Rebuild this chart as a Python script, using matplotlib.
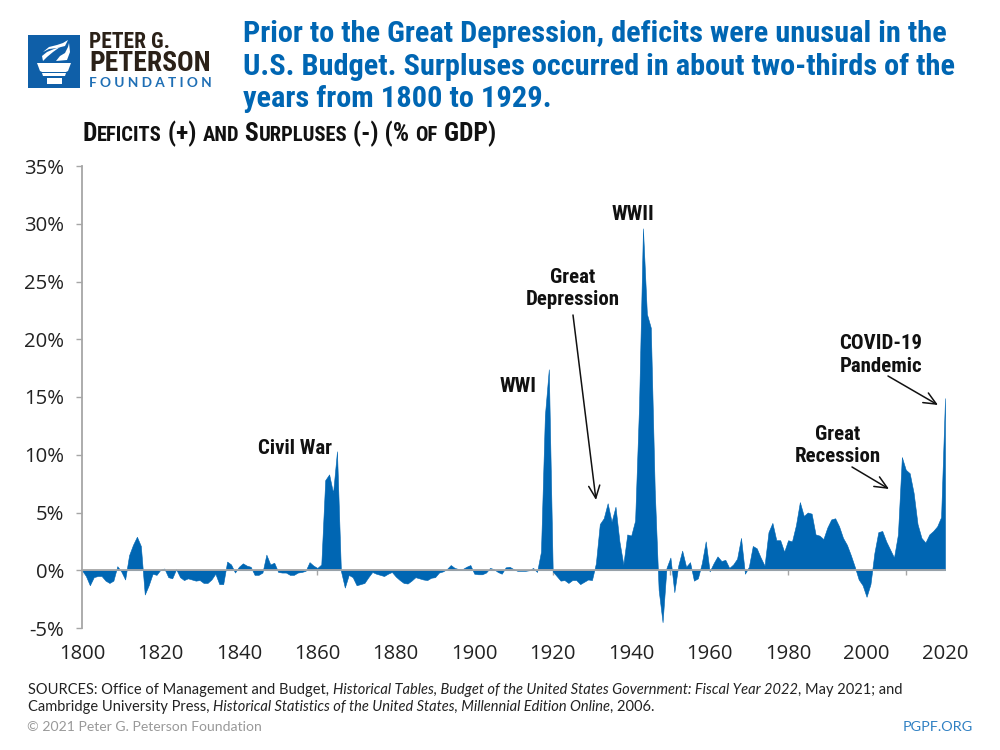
import matplotlib
matplotlib.use("Agg")
import matplotlib.pyplot as plt
from matplotlib.patches import Polygon, Rectangle
from matplotlib import font_manager as fm

# ---- data ----
years = list(range(1800, 2021))
vals_1800s = [0, -0.5, -1.3, -0.6, -0.5, -0.5, -0.9, -1.1, -0.9, 0.35,
              -0.1, -0.8, 1.3, 2.2, 2.9, 2.1, -2.1, -1.3, -0.3, -0.4,
              0.05, 0.15, -0.6, -0.7, 0.1, -0.6, -0.85, -0.7, -0.8, -0.9,
              -0.85, -1.1, -1.1, -0.8, -0.3, -1.2, -1.2, 0.75, 0.5, -0.2,
              0.3, 0.6, 0.4, 0.3, -0.4, -0.4, -0.2, 1.35, 0.5, 0.65,
              -0.15, -0.2, -0.2, -0.4, -0.4, -0.2, -0.15, -0.05, 0.7, 0.4,
              0.2, 0.5, 7.8, 8.3, 6.7, 10.3, -0.05, -1.5, -0.4, -0.6,
              -1.3, -1.2, -1.1, -0.6, -0.15, -0.3, -0.4, -0.5, -0.3, -0.15,
              -0.55, -0.85, -1.1, -1.15, -0.9, -0.6, -0.7, -0.8, -0.85, -0.65,
              -0.6, -0.2, -0.1, 0.1, 0.45, 0.2, 0.1, 0.1, 0.3, 0.45]
vals_1900s = [-0.3, -0.35, -0.35, -0.2, 0.2, 0.1, -0.15, -0.3, 0.25, 0.3,
              0.1, -0.05, -0.05, -0.05, 0.0, 0.2, -0.15, 1.6, 13.4, 17.4,
              -0.1, -0.5, -0.9, -0.85, -1.1, -0.85, -0.85, -1.2, -1.0, -0.8,
              -0.85, 0.6, 4.0, 4.5, 5.8, 4.2, 5.5, 2.5, 0.5, 3.1,
              3.0, 4.3, 14.2, 29.6, 22.2, 21.0, 7.0, -1.7, -4.5, 0.2,
              1.1, -1.9, 0.4, 1.7, 0.3, 0.7, -0.9, -0.7, 0.6, 2.5,
              -0.1, 0.6, 1.2, 0.8, 0.9, 0.2, 0.5, 1.0, 2.8, -0.3,
              0.3, 2.1, 1.9, 1.1, 0.4, 3.3, 4.1, 2.6, 2.6, 1.6,
              2.6, 2.5, 3.9, 5.9, 4.7, 5.0, 4.9, 3.1, 3.0, 2.7,
              3.7, 4.4, 4.5, 3.8, 2.8, 2.2, 1.3, 0.3, -0.8, -1.3]
vals_2000s = [-2.3, -1.2, 1.5, 3.3, 3.4, 2.5, 1.8, 1.1, 3.1, 9.8,
              8.7, 8.4, 6.7, 4.0, 2.8, 2.4, 3.1, 3.4, 3.8, 4.6, 14.9]
values = vals_1800s + vals_1900s + vals_2000s

x_labels = list(range(1800, 2021, 20))
x_marks = list(range(1800, 2021, 30))
y_ticks = list(range(-5, 36, 5))
y_labels = [f"{v}%" for v in y_ticks]
title_lines = ["Prior to the Great Depression, deficits were unusual in the",
               "U.S. Budget. Surpluses occurred in about two-thirds of the",
               "years from 1800 to 1929."]

BLUE = "#0066b3"
GRAY = "#a6a6a6"
W, H = 1000, 750

avail = {f.name for f in fm.fontManager.ttflist}
NARROW = next((n for n in ("Liberation Sans Narrow", "Roboto Condensed", "Open Sans Condensed") if n in avail), "Roboto")
BODY = "Lato"
TICK = "Open Sans"

fig = plt.figure(figsize=(10, 7.5), dpi=100, facecolor="white")
ax = fig.add_axes([82 / W, 1 - 628 / H, (945 - 82) / W, (628 - 166) / H])
ax.set_xlim(1800, 2020)
ax.set_ylim(-5, 35)
ax.fill_between(years, values, 0, facecolor=BLUE, edgecolor=BLUE, lw=0.4, zorder=2, clip_on=False)

for s in ("top", "right"):
    ax.spines[s].set_visible(False)
ax.spines["bottom"].set_position(("data", 0))
ax.spines["bottom"].set_color(GRAY)
ax.spines["bottom"].set_linewidth(1.3)
ax.spines["bottom"].set_zorder(3)
ax.spines["left"].set_color(GRAY)
ax.spines["left"].set_linewidth(1.3)
ax.xaxis.remove_overlapping_locs = False
ax.set_xticks(x_marks)
ax.set_xticklabels([])
ax.set_xticks(x_labels, labels=[str(v) for v in x_labels], minor=True)
ax.set_yticks(y_ticks)
ax.set_yticklabels(y_labels)
ax.tick_params(axis="y", length=4.3, width=1, color=GRAY, pad=8.5, labelsize=14.6, labelcolor="#222222")
ax.tick_params(axis="x", which="major", length=3.5, width=1, color=GRAY)
ax.tick_params(axis="x", which="minor", length=0, pad=53, labelsize=14.6, labelcolor="#222222")
for lb in ax.get_xticklabels(minor=True) + ax.get_yticklabels():
    lb.set_fontfamily(TICK)


def P(x, y):
    return x / W, 1 - y / H


def T(x, y, s, **kw):
    return fig.text(*P(x, y), s, **kw)


def runs(x, y, parts, **common):
    r = fig.canvas.get_renderer()
    for s, kw in parts:
        t = T(x, y, s, va="baseline", ha="left", **common, **kw)
        x += t.get_window_extent(r).width


# logo
fig.add_artist(Rectangle(P(28, 88), 52 / W, 53 / H, transform=fig.transFigure, color="#0f5fa8", lw=0))
logo_shapes = [
    [(37, 63), (71, 63), (68, 71), (66, 72), (42, 72), (40, 71)],
    [(42, 73), (66, 73), (65, 76), (43, 76)],
    [(47, 78), (62, 78), (62, 84), (47, 84)],
    [(43, 61), (42, 56), (47, 52), (54, 49), (60, 47), (53, 52), (47, 57)],
    [(43, 52), (49, 47), (57, 45), (63, 43), (68, 40), (65, 46), (57, 48), (49, 49)],
    [(56, 61), (60, 56), (65, 53), (68, 47), (69, 43), (70, 52), (67, 60)],
]
for pts in logo_shapes:
    fig.add_artist(Polygon([P(*p) for p in pts], closed=True, transform=fig.transFigure, color="white", lw=0))
T(89, 47.5, "PETER G.", family=NARROW, weight="bold", fontsize=15.5, color="#2b2118", va="baseline")
T(89, 71, "PETERSON", family=NARROW, weight="bold", fontsize=19.8, color="#2b2118", va="baseline")
T(89, 87, "F O U N D A T I O N", family=BODY, weight="bold", fontsize=9.8, color="#1f6fb5", va="baseline")

# title
for line, yb in zip(title_lines, (42, 75, 107)):
    T(243, yb, line, family=NARROW, weight="bold", fontsize=21.9, color=BLUE, va="baseline")

# small-caps subtitle
big = dict(fontsize=18.45)
small = dict(fontsize=14.9)
runs(83, 141, [("D", big), ("EFICITS", small), (" (+) ", big), ("AND", small), (" S", big),
               ("URPLUSES", small), (" (-) (% ", big), ("OF", small), (" GDP)", big)],
     family=NARROW, weight="bold", color="#111111")

# annotations
lab = dict(family=NARROW, weight="bold", fontsize=15, color="#111111", ha="center", va="center", linespacing=1.26)
T(295, 448, "Civil War", **lab)
T(518, 386, "WWI", **lab)
T(633, 215, "WWII", **lab)
T(573, 288.5, "Great\nDepression", **lab)
T(838, 445.5, "Great\nRecession", **lab)
T(881, 355, "COVID-19\nPandemic", **lab)
for a, b in [((573, 315), (596, 500)), ((852, 467), (889, 489)), ((888, 376), (938, 405))]:
    ax.annotate("", xy=P(*b), xytext=P(*a), xycoords="figure fraction", textcoords="figure fraction",
                arrowprops=dict(arrowstyle="->,head_length=0.9,head_width=0.4", color="#111111", lw=1.1,
                                shrinkA=0, shrinkB=0))

# footer
foot = dict(family=BODY, fontsize=10.5, color="#222222")
it = dict(style="italic")
runs(28, 694, [("SOURCES: Office of Management and Budget, ", {}),
               ("Historical Tables, Budget of the United States Government: Fiscal Year 2022", it),
               (", May 2021; and", {})], **foot)
runs(28, 711, [("Cambridge University Press, ", {}),
               ("Historical Statistics of the United States, Millennial Edition Online", it),
               (", 2006.", {})], **foot)
T(27, 731, "© 2021 Peter G. Peterson Foundation", family=BODY, fontsize=10.05, color="#999999", va="baseline")
T(973, 731, "PGPF.ORG", family=BODY, fontsize=10.4, color="#2f80c3", va="baseline", ha="right")

fig.savefig("out.png", dpi=100)
